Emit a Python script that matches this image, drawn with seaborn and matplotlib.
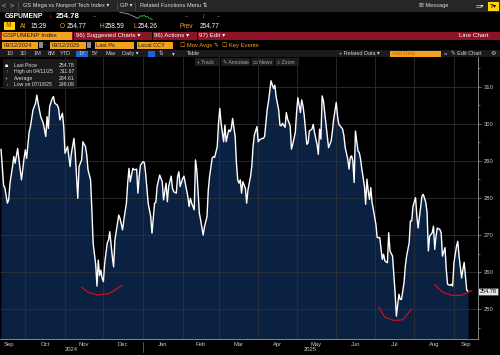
import matplotlib
matplotlib.use("Agg")
import matplotlib.pyplot as plt
import matplotlib.dates as mdates
import matplotlib.transforms as mtransforms
from matplotlib.patches import Rectangle
from matplotlib.ticker import MultipleLocator, NullFormatter
import pandas as pd
import seaborn as sns

# GS Mega vs Nonprof Tech Index, daily last price
start_date = pd.Timestamp("2024-09-12")
day_offset = [
    0, 2, 3, 5, 6, 7, 9, 10, 11, 13, 14, 15, 16, 18, 19, 20, 22, 23, 25, 27,
    28, 29, 31, 33, 35, 36, 37, 38, 40, 41, 42, 44, 45, 46, 48, 49, 50, 52, 54, 55,
    57, 58, 60, 61, 63, 64, 66, 67, 68, 70, 71, 72, 74, 75, 76, 77, 78, 79, 80, 81,
    83, 84, 85, 87, 88, 89, 91, 92, 93, 95, 96, 98, 99, 100, 101, 103, 104, 106, 107, 108,
    109, 111, 112, 113, 115, 117, 118, 120, 121, 122, 124, 125, 126, 127, 129, 130, 131, 133, 134, 135,
    137, 138, 139, 140, 142, 143, 144, 146, 147, 148, 149, 151, 152, 153, 155, 156, 158, 159, 161, 162,
    163, 165, 166, 167, 169, 170, 171, 172, 174, 175, 176, 178, 179, 180, 181, 183, 184, 185, 186, 187,
    188, 189, 191, 192, 193, 195, 196, 197, 198, 200, 201, 202, 204, 205, 206, 208, 209, 210, 211, 213,
    214, 215, 217, 218, 219, 220, 222, 223, 224, 226, 227, 228, 230, 231, 232, 234, 235, 236, 237, 239,
    240, 241, 243, 244, 245, 247, 248, 249, 250, 251, 252, 254, 255, 256, 258, 259, 260, 262, 263, 264,
    265, 267, 268, 269, 271, 272, 273, 274, 275, 276, 277, 279, 280, 281, 282, 284, 285, 286, 287, 288,
    289, 290, 291, 293, 294, 296, 298, 299, 300, 302, 303, 304, 306, 307, 308, 309, 311, 312, 313, 315,
    316, 317, 319, 320, 321, 322, 324, 325, 326, 328, 329, 330, 332, 333, 334, 335, 337, 338, 339, 340,
    341, 343, 344, 345, 347, 348, 349, 351, 352, 353, 354, 356, 357, 358, 360, 361, 362, 364, 365,
]
last_px = [
    293.2, 283.5, 282.7, 278.6, 279.5, 284.0, 288.5, 291.2, 289.4, 293.4, 290.3, 287.6, 284.9, 290.7, 293.0, 290.7, 297.9, 299.3, 303.8, 305.6,
    307.8, 305.6, 302.0, 300.2, 296.6, 302.0, 298.8, 304.7, 306.9, 307.4, 305.6, 305.1, 304.2, 301.1, 302.9, 299.3, 292.1, 293.9, 288.5, 292.1,
    296.1, 292.1, 279.9, 288.5, 290.3, 295.2, 293.9, 291.6, 287.6, 284.9, 276.8, 267.8, 262.0, 256.2, 263.2, 259.0, 260.5, 258.4, 257.4, 262.3,
    267.8, 268.6, 270.9, 264.1, 261.4, 268.6, 273.2, 275.4, 274.5, 271.4, 274.1, 278.6, 284.0, 288.0, 284.4, 288.0, 287.6, 287.8, 281.3, 285.8,
    288.9, 289.8, 289.6, 286.7, 278.6, 275.0, 270.5, 278.6, 278.8, 283.1, 286.2, 285.3, 284.4, 279.5, 284.0, 279.0, 283.1, 285.9, 282.6, 281.7,
    281.3, 285.8, 287.1, 283.1, 285.3, 285.9, 284.0, 280.4, 277.7, 279.9, 278.6, 276.8, 290.3, 287.6, 275.9, 274.1, 270.0, 272.2, 275.0, 282.2,
    285.8, 290.7, 291.2, 291.0, 293.9, 300.2, 304.2, 300.2, 295.2, 299.7, 295.2, 298.4, 297.9, 298.8, 301.5, 296.6, 289.4, 284.9, 284.0, 284.9,
    281.3, 284.4, 282.6, 278.6, 282.2, 285.8, 288.5, 293.9, 297.0, 299.3, 295.2, 295.7, 296.1, 296.1, 296.6, 303.8, 306.0, 308.7, 311.67, 309.6,
    310.5, 307.4, 303.8, 299.7, 299.5, 300.2, 299.1, 303.1, 301.3, 299.5, 293.2, 294.5, 297.7, 303.1, 307.1, 303.1, 306.5, 304.9, 302.2, 294.5,
    294.9, 298.1, 298.6, 299.9, 297.7, 294.5, 291.8, 298.6, 295.9, 307.6, 306.2, 299.9, 296.8, 293.6, 295.4, 298.1, 301.3, 305.8, 302.2, 299.9,
    299.5, 298.6, 296.8, 293.6, 290.5, 287.8, 291.0, 291.4, 290.0, 284.2, 298.1, 292.7, 292.3, 290.5, 287.8, 283.3, 278.3, 285.1, 281.9, 279.6,
    282.8, 278.8, 276.9, 272.9, 269.3, 269.3, 263.4, 264.8, 263.0, 262.5, 270.6, 265.7, 264.3, 259.4, 254.4, 248.09, 254.0, 252.6, 252.6, 257.1,
    261.6, 264.3, 267.9, 273.8, 273.8, 277.8, 280.1, 275.1, 271.9, 277.8, 280.5, 281.0, 278.8, 276.1, 265.7, 269.7, 270.6, 272.4, 266.1, 269.7,
    271.9, 271.5, 270.6, 264.3, 266.6, 260.7, 256.7, 256.4, 256.7, 256.2, 262.5, 267.0, 268.3, 264.3, 258.4, 260.7, 262.6, 255.1, 254.78,
]

month_names = ["Sep", "Oct", "Nov", "Dec", "Jan", "Feb", "Mar", "Apr", "May", "Jun", "Jul", "Aug", "Sep"]
year_names = ["2024", "2025"]
y_ticks = [250, 260, 270, 280, 290, 300, 310]
last_price = 254.78
legend_rows = [("Last Price", "254.78"), ("High on 04/11/25", "311.67"),
               ("Average", "284.61"), ("Low on 07/18/25", "248.09")]
legend_icons = ["■", "↑", "+", "↓"]
quote_fields = [("At", "15:29"), ("O", "254.77"), ("H", "258.59"), ("L", "254.26"), ("Prev", "254.77")]

# tiny intraday sparkline in the header
spark_prev = [258.3, 258.1, 258.2, 257.8, 257.6, 257.7, 257.2, 256.9, 256.5, 256.1, 255.7, 255.2]
spark_today = [255.2, 255.9, 256.6, 256.3, 256.8, 255.9, 256.2, 255.4, 255.0, 254.6]

# red hand-drawn strokes under the three troughs (day offset, value)
mark_days = [[63, 68, 75, 84, 95], [295, 300, 307, 314, 321], [339, 345, 352, 360, 368]]
mark_vals = [[255.9, 254.5, 253.8, 254.1, 256.4], [250.6, 247.8, 246.9, 247.1, 250.0],
             [256.6, 254.6, 253.7, 253.7, 255.0]]

ORANGE = "#f4a11d"
NAVY = "#0a2142"
BARRED = "#8c1424"

sns.set_style("dark", {"axes.facecolor": "black", "figure.facecolor": "black"})
plt.rcParams["font.family"] = ["Liberation Sans", "DejaVu Sans"]

df = pd.DataFrame({"date": start_date + pd.to_timedelta(day_offset, unit="D"), "px": last_px})

fig = plt.figure(figsize=(5, 3.55), dpi=100)
fig.patch.set_facecolor("black")
ax = fig.add_axes([0, 1 - 339 / 355, 478 / 500, (339 - 57) / 355])
ax.set_facecolor("black")

ybot, ytop = 241.9, 318.1
ax.fill_between(df["date"], df["px"], ybot, color=NAVY, lw=0, zorder=1)
sns.lineplot(data=df, x="date", y="px", color="white", lw=1.0, ax=ax, zorder=4)
for d, v in zip(mark_days, mark_vals):
    ax.plot(start_date + pd.to_timedelta(d, unit="D"), v, color="#c8101c", lw=0.9, zorder=5)

ax.set_xlim(start_date - pd.Timedelta(days=0.8), start_date + pd.Timedelta(days=372.8))
ax.set_ylim(ybot, ytop)
ax.set_xlabel("")
ax.set_ylabel("")

# axes and grid
ax.yaxis.tick_right()
ax.set_yticks(y_ticks)
ax.yaxis.set_minor_locator(MultipleLocator(5))
ax.xaxis.set_major_locator(mdates.MonthLocator())
ax.xaxis.set_major_formatter(NullFormatter())
xmin, xmax = [mdates.num2date(v).replace(tzinfo=None) for v in ax.get_xlim()]
month_starts = pd.date_range("2024-09-01", periods=14, freq="MS")
mids = []
for a, b in zip(month_starts[:-1], month_starts[1:]):
    a, b = max(a, pd.Timestamp(xmin)), min(b, pd.Timestamp(xmax))
    mids.append(a + (b - a) / 2)
mids[0] = mids[0] - pd.Timedelta(days=3)
ax.set_xticks(mids, labels=month_names, minor=True)
ax.tick_params(axis="x", which="minor", length=0, pad=2, labelsize=4.2, labelcolor="#c8c8c8")
ax.tick_params(axis="x", which="major", length=2.5, width=0.5, color="#888888")
ax.tick_params(axis="y", which="both", right=True, left=False, color="#9a9a9a", width=0.5,
               labelsize=4.2, labelcolor="#c8c8c8", pad=1.5)
ax.tick_params(axis="y", which="major", length=2.5)
ax.tick_params(axis="y", which="minor", length=1.5)
ax.grid(True, which="major", color="#2c3138", lw=0.6)
ax.set_axisbelow(False)
for s in ["left", "top"]:
    ax.spines[s].set_visible(False)
for s in ["right", "bottom"]:
    ax.spines[s].set_visible(True)
    ax.spines[s].set_color("#9a9a9a")
    ax.spines[s].set_linewidth(0.6)

blend = mtransforms.blended_transform_factory(ax.transData, ax.transAxes)
year_bounds = [(pd.Timestamp(xmin), pd.Timestamp("2025-01-01")), (pd.Timestamp("2025-01-01"), pd.Timestamp(xmax))]
for name, (a, b) in zip(year_names, year_bounds):
    ax.text(a + (b - a) / 2, -0.037, name, transform=blend, ha="center", va="center",
            fontsize=4.2, color="#c8c8c8", clip_on=False)
ax.plot([pd.Timestamp("2025-01-01")] * 2, [-0.01, -0.045], transform=blend, color="#777777",
        lw=0.5, clip_on=False)
ax.text(1.003, last_price, "254.78", transform=mtransforms.blended_transform_factory(ax.transAxes, ax.transData),
        ha="left", va="center", fontsize=4.0, color="black", clip_on=False,
        bbox=dict(boxstyle="square,pad=0.2", fc="#e6e6e6", ec="#444444", lw=0.4))

# pixel-space overlay for the terminal chrome
ov = fig.add_axes([0, 0, 1, 1], zorder=10)
ov.set_xlim(0, 500)
ov.set_ylim(355, 0)
ov.axis("off")


def box(x, y, w, h, c, **kw):
    ov.add_patch(Rectangle((x, y), w, h, color=c, lw=0, **kw))


def txt(x, y, s, c="#dedede", size=4.2, **kw):
    ov.text(x, y, s, color=c, fontsize=size, va="center", **kw)


# row 0: title bar
box(0, 0, 500, 12, "#262626")
txt(2, 5.8, "<", "#bbbbbb", 5.2)
txt(10, 5.8, ">", "#bbbbbb", 5.2)
for x in [18, 117, 135]:
    ov.plot([x, x], [2, 10], color="#555555", lw=0.5)
txt(23, 5.8, "GS Mega vs Nonprof Tech Index ▾", size=4.1)
txt(120, 5.8, "GP ▾", size=4.1)
txt(140, 5.8, "Related Functions Menu ⇅", size=4.1)
txt(419, 5.8, "✉ Message", size=4.1)
txt(475, 5.8, "▭▾", size=4.2)
box(488, 1.5, 11, 9, "#ffd400")
txt(489.5, 6, "?▾", "black", 4.6, fontweight="bold")

# row 1: ticker and last price
txt(5, 16.5, "GSPUMENP", "white", 4.8, fontweight="bold")
txt(48, 16.5, "↓", "#ff2a2a", 5.2, fontweight="bold")
txt(56, 16.5, "254.78", "white", 5.7, fontweight="bold")
txt(93, 16.5, "--", "#aaaaaa")
txt(185, 16.5, "--", "#aaaaaa")
txt(203, 16.5, "/", "#aaaaaa")
txt(217, 16.5, "--", "#aaaaaa")
sp = fig.add_axes([118 / 500, 1 - 20 / 355, 36 / 500, 8 / 355], zorder=11)
sp.axis("off")
n_prev = len(spark_prev)
sns.lineplot(x=list(range(n_prev)), y=spark_prev, color="#9a9a9a", lw=0.6, ax=sp)
sns.lineplot(x=list(range(n_prev - 1, n_prev - 1 + len(spark_today))), y=spark_today,
             color="#2ecc40", lw=0.6, ax=sp)

# row 2: quote fields
box(4, 21.5, 11, 8.5, "#ffd400")
txt(5.5, 25.8, "M", "#b06000", 4.8, fontweight="bold")
qx = [20, 60, 99, 133, 180]
vx = [31, 67, 105, 138, 200]
for (lab, val), a, b in zip(quote_fields, qx, vx):
    txt(a, 26, lab, ORANGE, 4.7)
    txt(b, 26, val, "white", 4.7)

# row 3: red command bar
box(0, 31.5, 500, 8.5, BARRED)
for x in [73, 151.5, 197]:
    box(x, 31.5, 1, 8.5, "black")
box(1.5, 32, 70, 7.5, ORANGE)
txt(3, 35.8, "GSPUMENP Index", "#1a1a1a", 4.6)
txt(76, 35.8, "96) Suggested Charts ▾", "white", 4.4)
txt(154, 35.8, "96) Actions ▾", "white", 4.4)
txt(199, 35.8, "97) Edit ▾", "white", 4.4)
txt(459, 35.8, "Line Chart", "white", 4.6)

# row 4: date range and series inputs
for x, w, s in [(2, 36, "09/12/2024"), (50, 36, "09/12/2025"), (95, 39, "Last Px"), (137, 36, "Local CCY")]:
    box(x, 41.5, w, 7, ORANGE)
    txt(x + 1.5, 45.2, s, "#1a1a1a", 4.1)
box(38.5, 42, 4, 6, "#8a8a8a")
box(86.5, 42, 4, 6, "#8a8a8a")
txt(44, 45.2, "-", "#cccccc")
txt(180, 45.2, "☐ Mov Avgs ✎  ☐ Key Events", ORANGE, 4.2)

# row 5: range buttons
box(0, 50, 500, 7, "#1b1b1b")
box(76, 50.5, 12, 6, "#1f63d6")
for x, s in [(7, "1D"), (20, "3D"), (34, "1M"), (48, "6M"), (60, "YTD"), (79, "1Y"),
             (92, "5Y"), (106, "Max"), (122, "Daily ▾"), (159, "⇅"), (172, "▾"), (187, "Table")]:
    txt(x, 53.8, s, "#d0d0d0", 4.0)
box(148, 50.5, 7, 6, "#1f63d6")
txt(339, 53.8, "+ Related Data ▾", "#d0d0d0", 4.0)
box(390, 50.5, 51, 6, ORANGE)
txt(392, 53.8, "Add Data", "#c46a00", 4.0)
txt(444, 53.8, "«", "#d0d0d0", 4.4)
txt(451, 53.8, "✎ Edit Chart", "#d0d0d0", 4.0)
txt(490, 53.8, "⚙", "#d0d0d0", 4.4)

# chart toolbar
box(195, 58, 25, 8, "#1d1d1d")
box(221, 58, 29, 8, "#1d1d1d")
box(251, 58, 23, 8, "#1d1d1d")
box(275, 58, 24, 8, "#1d1d1d")
txt(197, 62, "+ Track", "#a8a8a8", 3.7)
txt(223, 62, "✎ Annotate", "#a8a8a8", 3.7)
txt(253, 62, "▭ News", "#a8a8a8", 3.7)
txt(277, 62, "○ Zoom", "#a8a8a8", 3.7)

# stats legend
box(3, 59, 74, 30, "#1c1c1c", alpha=0.95)
for i, ((lab, val), icon) in enumerate(zip(legend_rows, legend_icons)):
    y = 65.5 + i * 6.3
    txt(5, y, icon, "white" if i == 0 else "#aaaaaa", 3.8)
    txt(14, y, lab, "#e0e0e0", 3.7)
    txt(75, y, val, "#e0e0e0", 3.7, ha="right")

fig.savefig("out.png", dpi=100, facecolor="black")
